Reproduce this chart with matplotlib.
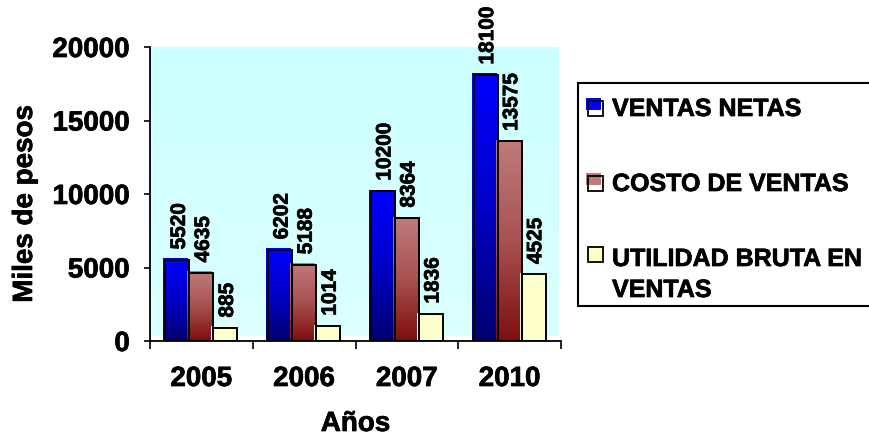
import numpy as np
import matplotlib
matplotlib.use("Agg")
import matplotlib.pyplot as plt
import matplotlib.patheffects as pe
from matplotlib.colors import LinearSegmentedColormap
from matplotlib.patches import Rectangle
from matplotlib.transforms import ScaledTranslation

plt.rcParams['font.family'] = ['Liberation Sans', 'DejaVu Sans']
plt.rcParams['font.weight'] = 'bold'

# ---- data -------------------------------------------------------------
years = ['2005', '2006', '2007', '2010']
ventas_netas = [5520, 6202, 10200, 18100]
costo_ventas = [4635, 5188, 8364, 13575]
utilidad_bruta = [885, 1014, 1836, 4525]
series_names = ['VENTAS NETAS', 'COSTO DE VENTAS', 'UTILIDAD BRUTA EN\nVENTAS']
y_ticks = [0, 5000, 10000, 15000, 20000]

# ---- styling ----------------------------------------------------------
W, H, DPI = 869, 439, 100
fills = [
    [(0.0, 0.0, 0.45), (0.0, 0.0, 0.78), (0.0, 0.0, 1.0)],      # navy -> blue
    [(0.50, 0.06, 0.06), (0.66, 0.32, 0.32), (0.75, 0.48, 0.48)],  # maroon -> rose
    [(1.0, 1.0, 0.80), (1.0, 1.0, 0.80)],                          # pale yellow
]
bar_w = 0.234
heavy = [pe.withStroke(linewidth=0.5, foreground='black')]


def px(x, y):
    """Pixel position (from top-left) to figure fraction."""
    return x / W, 1 - y / H


fig = plt.figure(figsize=(W / DPI, H / DPI), dpi=DPI)
ax = fig.add_axes([150 / W, 1 - 342 / H, 411 / W, 294 / H])

# light cyan wall with a soft vertical gradient
wall = LinearSegmentedColormap.from_list('wall', [(0.86, 1, 1), (0.80, 1, 1)])
ax.imshow(np.linspace(0, 1, 64).reshape(-1, 1), cmap=wall, origin='lower',
          extent=[0, 0.995, 0.017, 1.0], transform=ax.transAxes,
          aspect='auto', zorder=0)

# bar fills are nudged up-left of their outlines for a raised look
shift = ax.transData + ScaledTranslation(-2 / DPI, 1.5 / DPI, fig.dpi_scale_trans)
grad = np.linspace(0, 1, 128).reshape(-1, 1)
all_series = [ventas_netas, costo_ventas, utilidad_bruta]
x_centers = np.arange(len(years)) + 0.5

for i, vals in enumerate(all_series):
    xs = x_centers + (i - 1) * bar_w
    cmap = LinearSegmentedColormap.from_list(f's{i}', fills[i])
    bars = ax.bar(xs, vals, bar_w, facecolor='none', edgecolor='black',
                  linewidth=1.4, zorder=3)
    for rect, v in zip(bars, vals):
        x0, w = rect.get_x(), rect.get_width()
        ax.imshow(grad, cmap=cmap, origin='lower', aspect='auto',
                  extent=[x0, x0 + w, 0, v], transform=shift, zorder=2,
                  interpolation='bilinear')
        ax.annotate(f'{v}', xy=(x0 + w / 2, v), xytext=(1.5, 7.5),
                    textcoords='offset points', rotation=90, ha='center',
                    va='bottom', fontsize=15, fontweight='bold',
                    annotation_clip=False, path_effects=heavy)

ax.set_xlim(0, len(years))
ax.set_ylim(0, 20000)

# axes lines and ticks
for s in ['top', 'right']:
    ax.spines[s].set_visible(False)
for s in ['left', 'bottom']:
    ax.spines[s].set_linewidth(1.3)
    ax.spines[s].set_zorder(4)

ax.set_yticks(y_ticks)
ax.set_yticklabels([str(t) for t in y_ticks])
ax.tick_params(axis='y', direction='out', length=4.5, width=1.2,
               pad=10, labelsize=20)

ax.set_xticks(np.arange(len(years) + 1))
ax.set_xticklabels([])
ax.set_xticks(x_centers, minor=True)
ax.set_xticklabels(years, minor=True)
ax.tick_params(axis='x', which='major', direction='out', length=6, width=1.2)
ax.tick_params(axis='x', which='minor', length=0, pad=18, labelsize=20)
for lab in ax.get_yticklabels() + ax.get_xticklabels(minor=True):
    lab.set_path_effects(heavy)

ax.set_ylabel('Miles de pesos', fontsize=20, fontweight='bold', path_effects=heavy)
ax.yaxis.label.set_va('center')
ax.yaxis.set_label_coords((25 - 150) / 411, (342 - 205) / 294)
ax.set_xlabel('Años', fontsize=20, fontweight='bold', path_effects=heavy)
ax.xaxis.label.set_va('center')
ax.xaxis.set_label_coords(0.5, (342 - 425) / 294)

# ---- legend box -------------------------------------------------------
bx, by = px(578, 307)
fig.add_artist(Rectangle((bx, by), 0.4, (307 - 84) / H, transform=fig.transFigure,
                         facecolor='white', edgecolor='black', linewidth=1.5,
                         zorder=1))
baselines = [117, 192, 267]
marker_mid = [109.5, 184, 255.5]
for i, name in enumerate(series_names):
    top_col = fills[i][-1]
    inner = 'white' if i < 2 else top_col
    mx, my = px(588, marker_mid[i] + 7.5)
    fig.add_artist(Rectangle((mx, my), 15 / W, 15 / H, transform=fig.transFigure,
                             facecolor=inner, edgecolor='none', zorder=2))
    if i < 2:
        cx, cy = px(586, marker_mid[i] + 1.5)
        fig.add_artist(Rectangle((cx, cy), 15 / W, 12 / H, transform=fig.transFigure,
                                 facecolor=top_col, edgecolor='none', zorder=3))
    fig.add_artist(Rectangle((mx, my), 15 / W, 15 / H, transform=fig.transFigure,
                             facecolor='none', edgecolor='black', linewidth=1.3,
                             zorder=4))
    for k, line in enumerate(name.split('\n')):
        tx, ty = px(612, baselines[i] + 31 * k)
        fig.text(tx, ty, line, fontsize=18, fontweight='bold', va='baseline',
                 ha='left', zorder=5, path_effects=heavy)

fig.savefig('out.png', dpi=DPI)
